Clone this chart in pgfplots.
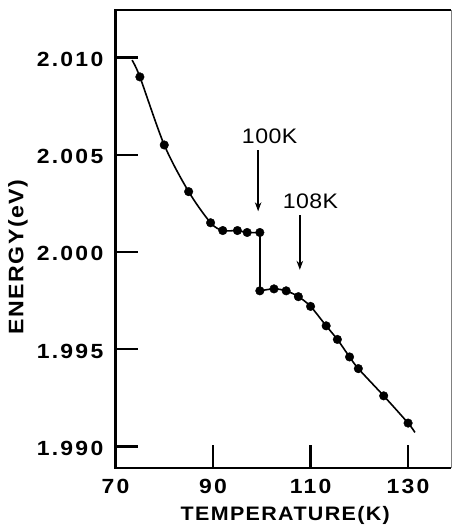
\documentclass[border=0pt]{standalone}
\usepackage{fontspec}
\setmainfont{Liberation Sans}
\newfontfamily\tickfont{Liberation Sans}[FakeStretch=1.12,LetterSpace=11]
\newfontfamily\labfont{Liberation Sans}[FakeStretch=1.1,LetterSpace=7]
\newfontfamily\annfont{Liberation Sans}[FakeStretch=1.1,LetterSpace=2]
\usepackage{pgfplots}
\pgfplotsset{compat=1.18}
\usetikzlibrary{arrows.meta}
\begin{document}
\begin{tikzpicture}
\begin{axis}[
  scale only axis,
  width=335.5pt, height=458pt,
  xmin=70, xmax=138.8,
  ymin=1.98889, ymax=2.01244,
  clip=false,
  axis line style={draw=none},
  tick pos=left,
  tick align=inside,
  major tick length=23pt,
  tick style={line width=2.3pt, black},
  xtick={70,90,110,130},
  xticklabels={70,90,110,130},
  ytick={1.990,1.995,2.000,2.005,2.010},
  yticklabels={1.990,1.995,2.000,2.005,2.010},
  ticklabel style={font=\tickfont\bfseries\fontsize{20.5}{21}\selectfont, inner sep=0pt},
  yticklabel style={anchor=east, xshift=-12pt, yshift=-2pt},
  xticklabel style={anchor=north, yshift=-11pt},
  every axis x label/.style={at={(axis description cs:0.506,-0.103)}, anchor=center},
  every axis y label/.style={at={(axis description cs:-0.2905,0.4606)}, anchor=center, rotate=90},
  xlabel={\labfont\bfseries\fontsize{19.5}{20}\selectfont TEMPERATURE(K)},
  ylabel={\labfont\bfseries\fontsize{21}{22}\selectfont ENERGY(eV)},
]
% frame
\draw[line width=2.3pt] (rel axis cs:1,1) -- (rel axis cs:0,1) -- (rel axis cs:0,0) -- (rel axis cs:1,0);
\draw[gray, line width=0.6pt] (rel axis cs:1,0) -- (rel axis cs:1,1);
\coordinate (bl) at (rel axis cs:0,0);
\coordinate (tr) at (rel axis cs:1,1);
% fitted curve, low-temperature branch
\addplot[black, line width=1.6pt, smooth, no marks] coordinates {
  (73.4,2.00986) (75,2.0090) (80,2.0055) (85,2.0031) (89.5,2.0015)
  (92,2.0011) (95,2.0011) (97,2.0010) (99.6,2.0010)
};
% jump at 100 K
\addplot[black, line width=1.6pt, no marks] coordinates {(99.6,2.0010) (99.6,1.9980)};
% high-temperature branch
\addplot[black, line width=1.6pt, smooth, no marks] coordinates {
  (99.6,1.9980) (102.5,1.9981) (105,1.9980) (107.5,1.9977) (110,1.9972)
  (113.2,1.9962) (115.5,1.9955) (118,1.9946) (119.8,1.9940) (125,1.9926)
  (130,1.9912) (131.4,1.99072)
};
% measured points
\addplot[only marks, mark=*, mark size=4.3pt, black] coordinates {
  (75,2.0090) (80,2.0055) (85,2.0031) (89.5,2.0015) (92,2.0011) (95,2.0011)
  (97,2.0010) (99.6,2.0010) (99.6,1.9980) (102.5,1.9981) (105,1.9980)
  (107.5,1.9977) (110,1.9972) (113.2,1.9962) (115.5,1.9955) (118,1.9946)
  (119.8,1.9940) (125,1.9926) (130,1.9912)
};
% annotations
\draw[line width=1.5pt, -{Stealth[length=9pt,width=6.5pt]}] (axis cs:99.25,2.00523) -- (axis cs:99.25,2.00209);
\draw[line width=1.5pt, -{Stealth[length=9pt,width=6.5pt]}] (axis cs:107.8,2.00188) -- (axis cs:107.8,1.99908);
\node[font=\annfont\fontsize{21}{22}\selectfont, anchor=center] at (axis cs:101.6,2.00597) {100K};
\node[font=\annfont\fontsize{21}{22}\selectfont, anchor=center] at (axis cs:110.0,2.00263) {108K};
\end{axis}
\pgfresetboundingbox
\path[use as bounding box] ([xshift=-115.5pt,yshift=-59pt]bl) rectangle ([xshift=1pt,yshift=10pt]tr);
\end{tikzpicture}
\end{document}
